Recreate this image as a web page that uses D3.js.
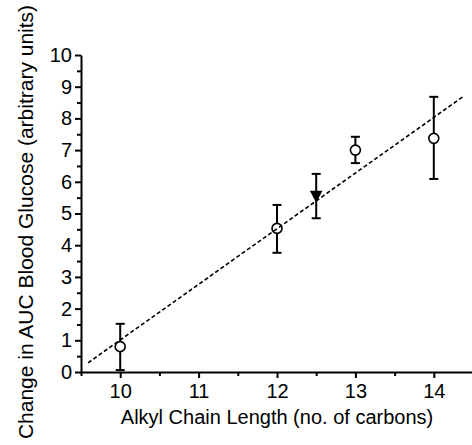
<!DOCTYPE html>
<html>
<head>
<meta charset="utf-8">
<script src="https://cdn.jsdelivr.net/npm/d3@7"></script>
<style>
  body { margin: 0; background: #fff; }
  svg { display: block; }
  text { font-family: "Liberation Sans", Arial, sans-serif; fill: #000; }
</style>
</head>
<body>
<div class="chart"></div>
<script>
// open circles
const chainLength = [10, 12, 13, 14];
const meanChange = [0.8, 4.53, 7.0, 7.37];
const errLow = [0.06, 3.76, 6.59, 6.09];
const errHigh = [1.52, 5.27, 7.42, 8.68];

// filled triangle
const triLength = [12.5];
const triChange = [5.5];
const triLow = [4.85];
const triHigh = [6.25];

// dashed fit line ends
const fitX = [9.59, 14.37];
const fitY = [0.29, 8.68];

const xTicks = [10, 11, 12, 13, 14];
const xMinor = [9.5, 10.5, 11.5, 12.5, 13.5, 14.5];
const yTicks = [0, 1, 2, 3, 4, 5, 6, 7, 8, 9, 10];
const yMinor = [0.5, 1.5, 2.5, 3.5, 4.5, 5.5, 6.5, 7.5, 8.5, 9.5];

const width = 472
const height = 445

const svg = d3.select('.chart')
    .append('svg')
    .attr('width', width)
    .attr('height', height)

const x = d3.scaleLinear().domain([9.5, 14.5]).range([81, 473])
const y = d3.scaleLinear().domain([0, 10]).range([372, 55])

// minor ticks first
svg.append('g')
    .attr('transform', 'translate(0,' + y(0) + ')')
    .call(d3.axisBottom(x).tickValues(xMinor).tickSize(4).tickFormat(''))
    .call(g => g.select('.domain').remove())
    .selectAll('line').attr('stroke-width', 2)

svg.append('g')
    .attr('transform', 'translate(' + x(9.5) + ',0)')
    .call(d3.axisLeft(y).tickValues(yMinor).tickSize(4).tickFormat(''))
    .call(g => g.select('.domain').remove())
    .selectAll('line').attr('stroke-width', 2)

// major axes
const xAxis = svg.append('g')
    .attr('transform', 'translate(0,' + y(0) + ')')
    .call(d3.axisBottom(x).tickValues(xTicks).tickFormat(d3.format('d'))
        .tickSize(6).tickSizeOuter(0).tickPadding(6))
xAxis.select('.domain').attr('stroke-width', 2)
xAxis.selectAll('line').attr('stroke-width', 2)
xAxis.selectAll('text').style('font-size', '20px')

const yAxis = svg.append('g')
    .attr('transform', 'translate(' + x(9.5) + ',0)')
    .call(d3.axisLeft(y).tickValues(yTicks).tickFormat(d3.format('d'))
        .tickSize(6).tickSizeOuter(0).tickPadding(3))
yAxis.select('.domain').attr('stroke-width', 2)
yAxis.selectAll('line').attr('stroke-width', 2)
yAxis.selectAll('text').style('font-size', '20px')

// axis titles
svg.append('text')
    .attr('x', 277)
    .attr('y', 424)
    .attr('text-anchor', 'middle')
    .style('font-size', '20px')
    .text('Alkyl Chain Length (no. of carbons)')

svg.append('text')
    .attr('transform', 'translate(33,222) rotate(-90)')
    .attr('text-anchor', 'middle')
    .style('font-size', '21px')
    .text('Change in AUC Blood Glucose (arbitrary units)')

// error bars
function errorBars(xs, lo, hi) {
    const g = svg.append('g').attr('stroke', '#000').attr('stroke-width', 2)
    xs.forEach(function (v, i) {
        g.append('line')
            .attr('x1', x(v)).attr('x2', x(v))
            .attr('y1', y(lo[i])).attr('y2', y(hi[i]))
        g.append('line')
            .attr('x1', x(v) - 4.5).attr('x2', x(v) + 4.5)
            .attr('y1', y(lo[i])).attr('y2', y(lo[i]))
        g.append('line')
            .attr('x1', x(v) - 4.5).attr('x2', x(v) + 4.5)
            .attr('y1', y(hi[i])).attr('y2', y(hi[i]))
    })
}
errorBars(chainLength, errLow, errHigh)
errorBars(triLength, triLow, triHigh)

// markers
svg.append('g')
    .selectAll('circle')
    .data(chainLength)
    .enter()
    .append('circle')
    .attr('cx', d => x(d))
    .attr('cy', (d, i) => y(meanChange[i]))
    .attr('r', 5)
    .attr('fill', '#fff')
    .attr('stroke', '#000')
    .attr('stroke-width', 1.6)

svg.append('g')
    .selectAll('path')
    .data(triLength)
    .enter()
    .append('path')
    .attr('d', function (d, i) {
        const cx = x(d), cy = y(triChange[i])
        return 'M' + (cx - 6.3) + ',' + (cy - 7) + 'L' + (cx + 6.3) + ',' + (cy - 7) + 'L' + cx + ',' + (cy + 5) + 'Z'
    })
    .attr('fill', '#000')

// dashed fit
svg.append('line')
    .attr('x1', x(fitX[0])).attr('y1', y(fitY[0]))
    .attr('x2', x(fitX[1])).attr('y2', y(fitY[1]))
    .attr('stroke', '#000')
    .attr('stroke-width', 1.6)
    .attr('stroke-dasharray', '4,2.5')
</script>
</body>
</html>
